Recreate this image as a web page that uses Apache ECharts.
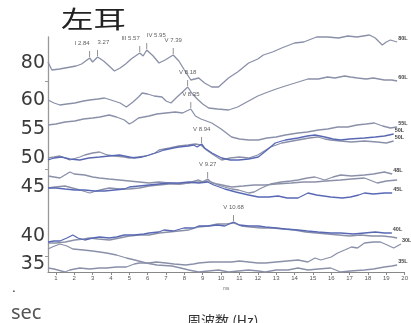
<!DOCTYPE html>
<html>
<head>
<meta charset="utf-8">
<script src="https://cdn.jsdelivr.net/npm/echarts@6/dist/echarts.min.js"></script>
<style>
html,body{margin:0;padding:0;background:#fff}
#c{width:411px;height:323px}
</style>
</head>
<body>
<div id="c"></div>
<script>
// Latency axis ticks (ms)
const msTicks = [1,2,3,4,5,6,7,8,9,10,11,12,13,14,15,16,17,18,19,20];

// Stimulus level labels on the left and the trace offset each one sits at
const levelLabels = ['80','60','55','50','45','40','35'];
const levelAt = [209,172,143,114,85,36,8];

// Averaged responses: [latency ms, stacked offset]
const trace80 = [[0.57,210],[0.78,202],[1.2,203],[1.5,204],[1.8,205],[2.1,206],[2.4,208],[2.84,214],[3.0,210],[3.27,215],[3.6,211],[3.9,206],[4.19,201],[4.5,204],[4.8,208],[5.1,213],[5.57,219],[5.75,216],[5.95,222],[6.3,216],[6.62,209],[6.95,212],[7.39,217],[7.7,211],[8.0,202],[8.35,192],[8.78,194],[9.1,189],[9.49,185],[9.86,185],[10.4,194],[10.9,200],[11.5,209],[12.0,213],[12.3,217],[12.8,220],[13.3,224],[14.0,229],[14.5,230],[15.2,235],[15.8,235],[16.4,234],[16.9,236],[17.4,235],[18.08,237],[18.4,234],[18.78,227],[19.0,230],[19.22,232],[19.59,230]];
const trace60 = [[0.57,172],[0.9,169],[1.22,167],[1.6,168],[2.03,169],[2.5,171],[2.84,172],[3.3,173],[3.65,174],[4.0,172],[4.5,169],[4.84,165],[5.2,170],[5.5,175],[5.7,179],[6.0,178],[6.35,176],[6.78,175],[7.0,171],[7.27,169],[7.6,175],[7.9,180],[8.18,185],[8.4,179],[8.7,173],[9.0,168],[9.32,164],[9.8,163],[10.41,162],[10.9,165],[11.5,171],[12.0,176],[12.41,179],[13.0,183],[13.5,186],[14.03,189],[14.73,193],[15.3,193],[15.8,195],[16.2,194],[16.73,196],[17.05,195],[17.43,194],[17.9,193],[18.3,194],[18.89,192],[19.3,192],[19.59,191]];
const trace55 = [[0.57,147],[1.0,148],[1.5,150],[2.03,151],[2.5,153],[3.0,154],[3.4,155],[3.9,157],[4.3,155],[4.73,152],[5.0,148],[5.2,150],[5.5,154],[6.08,156],[6.5,158],[7.0,159],[7.5,160],[7.9,159],[8.35,163],[8.6,156],[8.9,153],[9.2,151],[9.49,149],[10.0,143],[10.57,135],[11.0,133],[11.5,132],[12.03,132],[12.5,134],[13.0,135],[13.5,137],[14.19,139],[14.7,140],[15.3,142],[15.8,143],[16.35,145],[16.9,145],[17.4,147],[17.9,148],[18.35,149],[18.8,146],[19.22,144],[19.59,145]];
const trace50a = [[0.57,112],[0.9,114],[1.3,115],[1.76,113],[2.3,112],[2.8,114],[3.38,115],[3.9,116],[4.46,117],[5.0,115],[5.27,114],[5.7,115],[6.08,117],[6.6,120],[6.89,122],[7.4,124],[7.7,125],[8.2,126],[8.5,127],[8.7,125],[8.94,128],[9.1,124],[9.5,119],[10.03,114],[10.5,112],[10.95,112],[11.5,113],[12.03,115],[12.5,122],[12.95,129],[13.5,132],[14.19,134],[14.7,136],[15.11,137],[15.65,135],[16.1,133],[16.51,132],[17.0,133],[17.81,134],[18.4,135],[18.9,136],[19.4,138]];
const trace50b = [[0.57,114],[0.9,115],[1.22,116],[1.76,112],[2.3,115],[2.57,117],[3.0,119],[3.38,120],[3.8,117],[4.19,116],[4.73,115],[5.0,114],[5.5,115],[5.92,116],[6.4,119],[6.62,122],[7.2,124],[7.7,126],[8.2,127],[8.6,128],[8.9,127],[9.2,122],[9.6,117],[10.03,112],[10.5,114],[11.0,115],[11.5,114],[12.0,117],[12.7,125],[13.3,129],[14.19,132],[14.8,134],[15.27,135],[15.65,133],[15.97,132],[16.5,131],[17.1,130],[17.8,131],[18.5,130],[19.0,129],[19.4,131]];
const trace48 = [[0.57,96],[0.9,95],[1.22,94],[1.76,100],[2.0,98],[2.57,97],[3.0,95],[3.38,94],[3.9,93],[4.46,92],[5.0,91],[5.54,90],[6.08,89],[6.6,90],[7.16,89],[7.7,88],[8.2,89],[8.78,92],[9.0,90],[9.27,93],[9.5,89],[10.0,86],[10.57,83],[10.95,82],[11.5,79],[11.8,80],[12.2,84],[12.7,88],[13.27,90],[13.8,91],[14.19,92],[14.7,94],[15.11,95],[15.65,92],[16.1,95],[16.51,97],[17.1,96],[17.81,97],[18.3,98],[18.89,100],[19.32,98]];
const trace45a = [[0.57,84],[1.0,84],[1.5,83],[2.03,82],[2.57,82],[3.1,81],[3.65,81],[4.19,82],[4.73,83],[5.0,85],[5.54,86],[6.08,87],[6.62,88],[7.16,89],[7.7,89],[8.24,90],[8.78,89],[9.27,90],[9.6,87],[10.2,83],[10.8,80],[11.5,77],[12.03,75],[12.6,75],[13.1,76],[13.6,74],[14.19,74],[14.73,79],[15.2,77],[15.97,75],[16.6,74],[17.05,75],[17.5,77],[17.81,79],[18.3,78],[18.9,79],[19.32,79]];
const trace45b = [[0.57,84],[0.95,85],[1.49,86],[1.9,84],[2.3,82],[2.84,79],[3.2,81],[3.65,83],[3.92,84],[4.46,83],[5.0,83],[5.54,84],[6.08,86],[6.6,87],[7.16,88],[7.7,88],[8.24,89],[8.78,90],[9.3,91],[9.8,88],[10.57,85],[11.2,86],[11.8,87],[12.41,87],[13.0,88],[13.81,89],[14.5,90],[15.11,90],[15.7,91],[16.51,92],[17.1,93],[17.81,94],[18.51,89],[19.0,91],[19.59,92]];
const trace40a = [[0.57,30],[0.9,31],[1.22,31],[1.6,34],[1.92,37],[2.2,34],[2.57,32],[3.0,34],[3.38,35],[3.9,34],[4.3,35],[4.73,37],[5.27,37],[5.8,38],[6.08,39],[6.6,40],[6.89,42],[7.4,41],[7.97,44],[8.5,44],[8.78,46],[9.3,46],[9.8,47],[10.2,46],[10.68,50],[11.0,47],[11.5,46],[12.03,46],[12.41,45],[13.0,44],[13.5,43],[14.19,42],[14.7,41],[15.27,40],[15.97,39],[16.5,39],[17.2,38],[17.81,39],[18.4,40],[18.89,39],[19.3,39]];
const trace40b = [[0.57,29],[1.0,29],[1.5,30],[2.03,32],[2.5,33],[2.84,34],[3.3,33],[3.92,32],[4.46,34],[5.0,36],[5.54,37],[6.08,37],[6.62,39],[7.16,40],[7.7,41],[8.24,42],[8.78,45],[9.3,46],[9.8,48],[10.3,48],[10.68,49],[11.1,46],[11.6,45],[12.2,44],[12.8,44],[13.4,43],[14.0,42],[14.6,40],[15.2,39],[15.8,38],[16.4,37],[17.0,36],[17.6,37],[18.2,36],[18.8,36],[19.3,35],[19.59,34]];
const trace30 = [[0.57,4],[0.9,3],[1.49,0],[1.76,2],[2.3,4],[2.84,3],[3.38,4],[3.76,4],[4.3,5],[4.84,5],[5.27,8],[5.54,9],[6.08,9],[6.46,10],[7.0,9],[7.43,8],[8.08,7],[8.5,8],[8.78,9],[9.4,10],[10.0,10],[10.57,10],[11.0,11],[11.5,10],[12.0,9],[12.41,9],[13.0,10],[13.6,11],[14.19,12],[14.73,10],[15.11,14],[15.43,12],[16.0,15],[16.35,19],[16.73,22],[17.1,25],[17.43,24],[17.81,29],[18.3,30],[18.68,30],[19.05,27],[19.4,24],[19.8,28]];
const trace35 = [[0.57,23],[0.8,25],[1.22,28],[1.6,26],[1.92,23],[2.5,22],[3.0,21],[3.76,19],[4.3,17],[4.84,14],[5.3,12],[5.92,9],[6.5,7],[7.32,6],[7.8,4],[8.24,2],[8.78,0],[9.3,1],[9.86,2],[10.41,0],[10.95,1],[11.49,2],[12.03,1],[12.41,0],[13.0,2],[13.65,2],[14.19,4],[14.73,2],[15.3,3],[15.97,4],[16.51,0],[17.05,1],[17.81,2],[18.3,3],[18.89,5],[19.3,6],[19.59,7]];

const traces = [trace80, trace60, trace55, trace50a, trace50b, trace48, trace45a, trace45b, trace40a, trace40b, trace30, trace35];
const traceNames = ['80L','60L','55L','50L','50L','48L','45L','','40L','','30L','35L'];

// Marked peaks: which trace, latency, and the printed tag
const peakTrace = [0,0,0,0,0,1,2,3,5,8];
const peakMs = [2.84,3.27,5.57,5.95,7.39,8.18,8.35,8.94,9.27,10.68];
const peakText = ['I 2.84','3.27','III 5.57','IV 5.95','V 7.39','V 8.18','V 8.35','V 8.94','V 9.27','V 10.68'];

const BLUE = '#5868b4';
const GREY = '#8a90a8';
const blueTraces = new Set([3, 6, 8]);

const lineSeries = traces.map((d, i) => ({
  type: 'line',
  name: traceNames[i],
  data: d,
  showSymbol: false,
  silent: true,
  clip: false,
  lineStyle: { color: blueTraces.has(i) ? BLUE : GREY, width: 1.3 },
  endLabel: {
    show: traceNames[i] !== '',
    formatter: '{a}',
    fontSize: 5.5,
    fontWeight: 'bold',
    color: '#444',
    distance: 1,
    offset: [0, -4]
  },
  z: blueTraces.has(i) ? 3 : 2
}));

function valueAt(trace, ms) {
  const p = trace.find(q => q[0] === ms);
  return p ? p[1] : 0;
}

const peakData = peakMs.map((ms, k) => {
  const prevClose = k > 0 && peakTrace[k - 1] === peakTrace[k] && ms - peakMs[k - 1] < 0.6;
  const nextClose = k < peakMs.length - 1 && peakTrace[k + 1] === peakTrace[k] && peakMs[k + 1] - ms < 0.6;
  return {
    value: [ms, valueAt(traces[peakTrace[k]], ms)],
    name: peakText[k],
    label: { align: nextClose ? 'right' : (prevClose ? 'left' : 'center') }
  };
});

const chart = echarts.init(document.getElementById('c'), null, { renderer: 'canvas' });
chart.setOption({
  animation: false,
  backgroundColor: '#fff',
  grid: { left: 48, right: 3, top: 37, bottom: 51 },
  xAxis: {
    type: 'value',
    min: 0.57,
    max: 20,
    name: 'ms',
    nameLocation: 'middle',
    nameGap: 13,
    nameTextStyle: { fontSize: 4.5, color: '#666' },
    axisLine: { lineStyle: { color: '#888', width: 1 } },
    axisTick: { customValues: msTicks, length: 3, lineStyle: { color: '#888' } },
    axisLabel: { customValues: msTicks, fontSize: 6, color: '#555', margin: 3 },
    splitLine: { show: false }
  },
  yAxis: {
    type: 'value',
    min: 0,
    max: 235,
    axisLine: { show: true, lineStyle: { color: '#999', width: 1.3 } },
    axisTick: { show: true, customValues: [191, 103, 16], length: 3, lineStyle: { color: '#999' } },
    axisLabel: {
      customValues: levelAt,
      formatter: v => levelLabels[levelAt.indexOf(v)] || '',
      fontSize: 19,
      fontFamily: 'DejaVu Sans',
      color: '#3a3a3a',
      margin: 3
    },
    splitLine: { show: false }
  },
  series: lineSeries.concat([{
    type: 'scatter',
    data: peakData,
    symbol: 'rect',
    symbolSize: [0.8, 6],
    symbolOffset: [0, -4],
    itemStyle: { color: '#555' },
    silent: true,
    clip: false,
    z: 5,
    label: {
      show: true,
      position: 'top',
      distance: 5,
      formatter: '{b}',
      fontSize: 6,
      color: '#333'
    }
  }]),
  graphic: [
    { type: 'text', x: 61, y: 7, scaleX: 1.35,
      style: { text: '左耳', fontSize: 24, fontFamily: 'Noto Sans CJK JP', fill: '#222' } },
    { type: 'text', x: 11, y: 303,
      style: { text: 'sec', fontSize: 20, fontFamily: 'Noto Sans', fill: '#555' } },
    { type: 'text', x: 12, y: 287,
      style: { text: '·', fontSize: 12, fontFamily: 'DejaVu Sans', fill: '#222' } },
    { type: 'text', x: 187, y: 314,
      style: { text: '周波数 (Hz)', fontSize: 14, fontFamily: 'Noto Sans CJK JP', fill: '#333' } }
  ]
});
</script>
</body>
</html>
